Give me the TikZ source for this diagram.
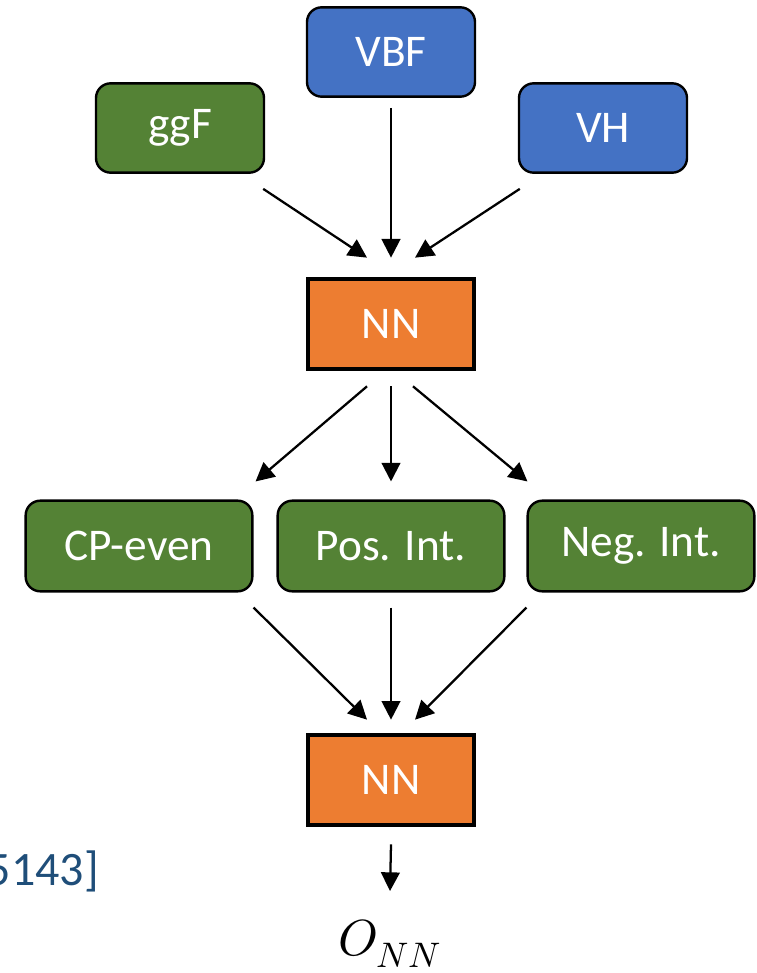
\documentclass[tikz,border=0pt]{standalone}
\usepackage{fontspec}
\usepackage{unicode-math}
\setmainfont{Carlito}
\setmathfont{Latin Modern Math}
\usetikzlibrary{arrows.meta,calc}
\definecolor{boxgreen}{RGB}{84,130,53}
\definecolor{boxblue}{RGB}{68,114,196}
\definecolor{nnorange}{RGB}{237,125,49}
\definecolor{citeblue}{RGB}{31,78,121}

\begin{document}
\begin{tikzpicture}[x=0.75pt,y=-0.75pt,
  proc/.style={draw=black,line width=1.8pt,rounded corners=11pt,text=white,
    font=\fontsize{34}{40}\selectfont,minimum width=126pt,minimum height=67pt,inner sep=0pt},
  cat/.style={proc,fill=boxgreen,minimum width=170pt,minimum height=68pt},
  net/.style={draw=black,line width=3pt,fill=nnorange,text=white,
    font=\fontsize{34}{40}\selectfont,minimum width=125pt,minimum height=68pt,inner sep=0pt},
  arr/.style={line width=1.7pt,-{Triangle[length=14pt,width=14pt]}}]
\useasboundingbox (0,0) rectangle (756,973);

\node[proc,fill=boxblue] (vbf) at (391,52) {VBF};
\node[proc,fill=boxgreen] (ggf) at (180,128) {ggF};
\node[proc,fill=boxblue] (vh) at (603,128) {VH};
\node[net] (nn1) at (391,324) {NN};
\node[cat] (cp) at (139,546) {CP-even};
\node[cat] (pos) at (391,546) {Pos. Int.};
\node[cat] (neg) at (641,546) {Neg. Int.};
\node[net] (nn2) at (391,780) {NN};
\node[anchor=base,inner sep=0pt,font=\fontsize{38}{42}\selectfont] (out) at (390,955) {$O_{NN}$};
\node[anchor=base east,inner sep=0pt,text=citeblue,font=\fontsize{36}{40}\selectfont] (cite) at (99,885) {5143]};

\draw[arr] ($(ggf.south east)+(-2,15)$) -- ($(nn1.north)+(-24,-19)$);
\draw[arr] ($(vbf.south)+(0,10)$) -- ($(nn1.north)+(0,-19)$);
\draw[arr] ($(vh.south west)+(2,15)$) -- ($(nn1.north)+(24,-19)$);

\draw[arr] ($(nn1.south)+(-24,15)$) -- ($(cp.north east)+(2,-18)$);
\draw[arr] ($(nn1.south)+(0,15)$) -- ($(pos.north)+(0,-18)$);
\draw[arr] ($(nn1.south)+(22,15)$) -- ($(neg.north west)+(1,-18)$);

\draw[arr] ($(cp.south east)+(0,15)$) -- ($(nn2.north)+(-24,-13)$);
\draw[arr] ($(pos.south)+(0,15)$) -- ($(nn2.north)+(0,-13)$);
\draw[arr] ($(neg.south west)+(0,15)$) -- ($(nn2.north)+(24,-13)$);

\draw[arr] ($(nn2.south)+(0,17)$) -- ($(out.north)+(0,-28)$);
\end{tikzpicture}
\end{document}
